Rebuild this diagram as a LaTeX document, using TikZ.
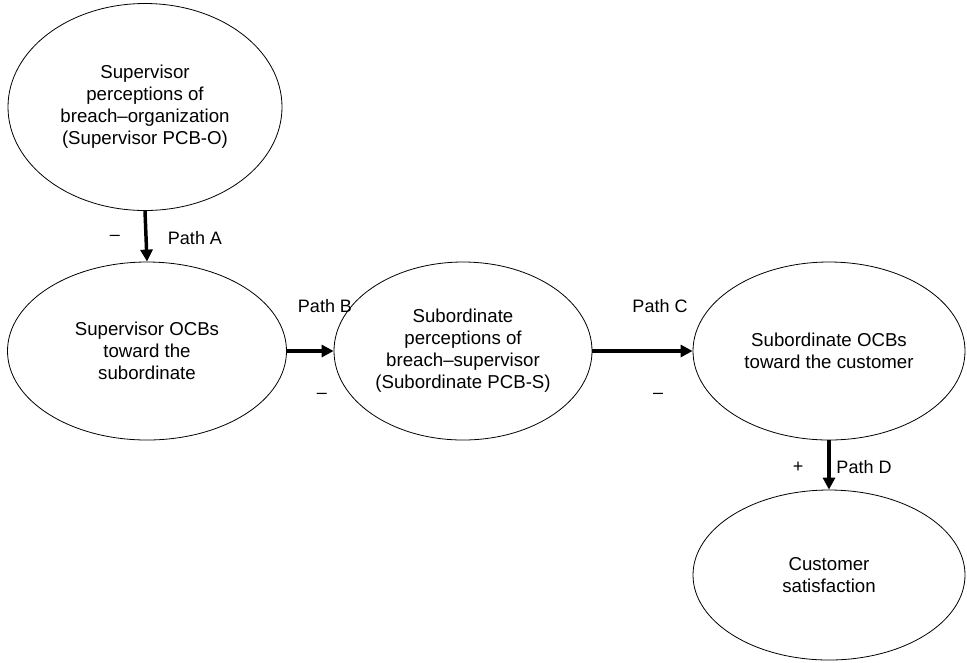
\documentclass[tikz,border=0pt]{standalone}
\usepackage{fontspec}
\setmainfont{Liberation Sans}
\usetikzlibrary{shapes.geometric,arrows.meta}
\begin{document}
\begin{tikzpicture}[x=0.75pt,y=-0.75pt,
  oval/.style={draw,ellipse,line width=0.6pt,inner sep=0pt,align=center,font=\fontsize{14}{16.5}\selectfont},
  conn/.style={line width=2.6pt,-{Triangle[length=9pt,width=9pt]}},
  lbl/.style={font=\fontsize{13.5}{15}\selectfont,inner sep=0pt}]
\useasboundingbox (0,0) rectangle (967,662);
\node[oval,minimum width=274*0.75pt,minimum height=207*0.75pt] (sup) at (145,107) {Supervisor\\perceptions of\\breach--organization\\(Supervisor PCB-O)};
\node[oval,minimum width=279*0.75pt,minimum height=178*0.75pt] (ocb) at (147,351) {Supervisor OCBs\\toward the\\subordinate};
\node[oval,minimum width=258*0.75pt,minimum height=178*0.75pt] (sub) at (463,351) {Subordinate\\perceptions of\\breach--supervisor\\(Subordinate PCB-S)};
\node[oval,minimum width=272*0.75pt,minimum height=178*0.75pt] (cus) at (829,351) {Subordinate OCBs\\toward the customer};
\node[oval,minimum width=272*0.75pt,minimum height=170*0.75pt] (sat) at (829,575) {Customer\\satisfaction};
\draw[conn] (sup.south) -- (ocb.north);
\draw[conn] (ocb.east) -- (sub.west);
\draw[conn] (sub.east) -- (cus.west);
\draw[conn] (cus.south) -- (sat.north);
\node[lbl] (la) at (195,238) {Path A};
\node[lbl] (ma) at (115,238) {--};
\node[lbl] (lb) at (325,306) {Path B};
\node[lbl] (mb) at (322,396) {--};
\node[lbl] (lc) at (660,306) {Path C};
\node[lbl] (mc) at (658,396) {--};
\node[lbl] (ld) at (864,467) {Path D};
\node[lbl] (md) at (798,467) {+};
\end{tikzpicture}
\end{document}
